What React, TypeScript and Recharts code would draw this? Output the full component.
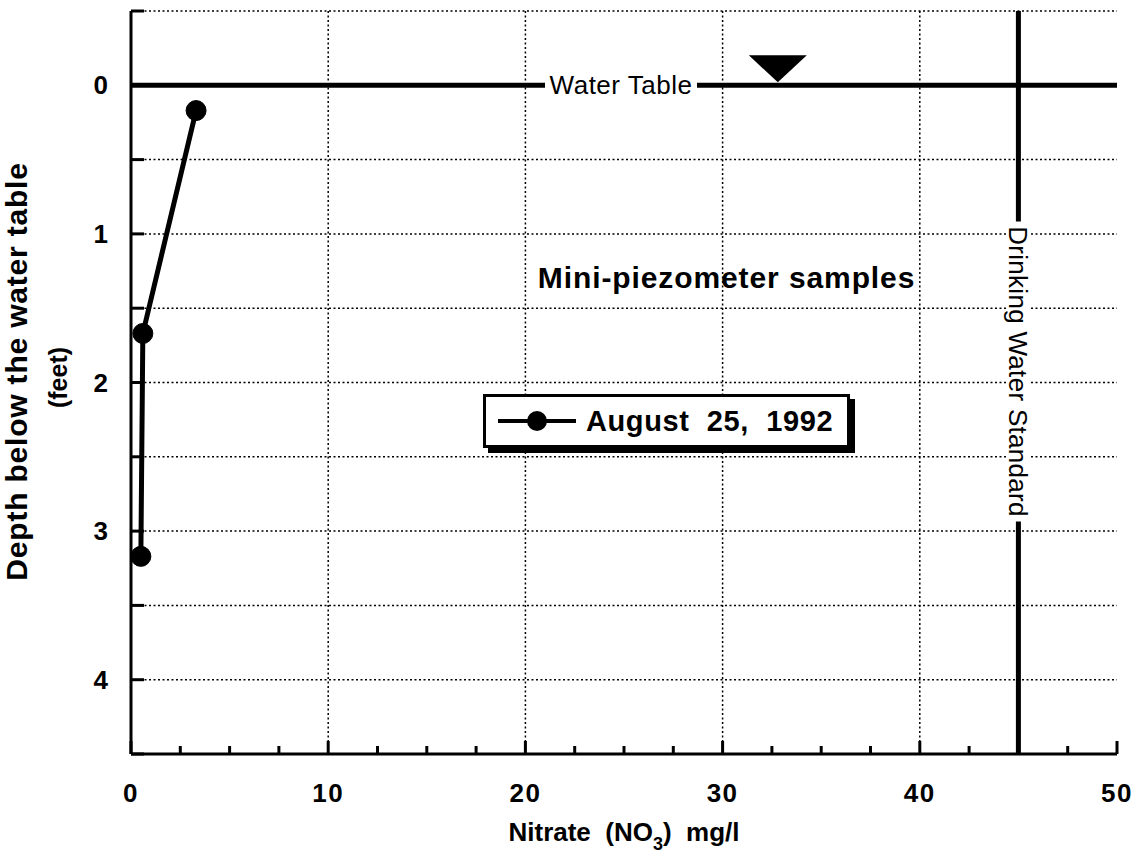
import {
  LineChart, Line, XAxis, YAxis, CartesianGrid, ReferenceLine, ReferenceDot, Legend
} from "recharts";

// samples
const nitrate = [3.3, 0.6, 0.5];
const depth = [0.17, 1.67, 3.17];
const seriesName = "August  25,  1992";

const xTicks = [0, 2.5, 5, 7.5, 10, 12.5, 15, 17.5, 20, 22.5, 25, 27.5, 30, 32.5, 35, 37.5, 40, 42.5, 45, 47.5, 50];
const xLabels = [0, 10, 20, 30, 40, 50];
const xGrid = [10, 20, 30, 40];
const yTicks = [-0.5, 0, 0.5, 1, 1.5, 2, 2.5, 3, 3.5, 4, 4.5];
const yLabels = [0, 1, 2, 3, 4];

const waterTable = 0;
const drinkingStandard = 45;
const triangleX = 32.8;
const titleX = 30.2;
const titleDepth = 1.3;

const FONT = "'Liberation Sans', Arial, Helvetica, sans-serif";

const data = nitrate.map((n, i) => ({ nitrate: n, depth: depth[i] }));

const BottomTick = ({ x, y, payload }: any) => {
  const v = payload.value;
  const major = xLabels.includes(v);
  return (
    <g>
      <line x1={x} x2={x} y1={y} y2={y - (major ? 13 : 8)} stroke="#000" strokeWidth={3} />
      {major && (
        <text x={x} y={y + 48} textAnchor="middle" fontFamily={FONT} fontWeight="bold" fontSize={26} letterSpacing={1.5} fill="#000">
          {v}
        </text>
      )}
    </g>
  );
};

const TopTick = ({ x, y }: any) => (
  <line x1={x} x2={x} y1={y} y2={y + 7} stroke="#000" strokeWidth={3} />
);

const LeftTick = ({ x, y, payload }: any) => {
  const v = payload.value;
  return (
    <g>
      <line x1={x} x2={x + 13} y1={y} y2={y} stroke="#000" strokeWidth={3} />
      {yLabels.includes(v) && (
        <text x={x - 23} y={y + 9} textAnchor="end" fontFamily={FONT} fontWeight="bold" fontSize={26} fill="#000">
          {v}
        </text>
      )}
    </g>
  );
};

const RightTick = ({ x, y }: any) => (
  <line x1={x} x2={x - 13} y1={y} y2={y} stroke="#000" strokeWidth={3} />
);

const XLabel = ({ viewBox }: any) => {
  const cx = viewBox.x + viewBox.width / 2;
  const by = viewBox.y + 87;
  return (
    <text x={cx} y={by} textAnchor="middle" fontFamily={FONT} fontWeight="bold" fontSize={26} fill="#000" style={{ whiteSpace: "pre" }}>
      {"Nitrate  (NO"}
      <tspan fontSize={18} dy={9}>3</tspan>
      <tspan dy={-9}>{")  mg/l"}</tspan>
    </text>
  );
};

const YLabel = ({ viewBox }: any) => {
  const cy = viewBox.y + viewBox.height / 2;
  return (
    <g>
      <text transform={`translate(27, ${cy - 11}) rotate(-90)`} textAnchor="middle" fontFamily={FONT} fontWeight="bold" fontSize={30} letterSpacing={0.8} fill="#000">
        Depth below the water table
      </text>
      <text transform={`translate(67, ${cy - 5}) rotate(-90)`} textAnchor="middle" fontFamily={FONT} fontWeight="bold" fontSize={25} fill="#000">
        (feet)
      </text>
    </g>
  );
};

const WaterTableLabel = ({ viewBox }: any) => {
  const cx = viewBox.x + viewBox.width / 2 - 3;
  const cy = viewBox.y;
  return (
    <g>
      <rect x={cx - 76} y={cy - 12} width={152} height={24} fill="#fff" />
      <text x={cx} y={cy + 9} textAnchor="middle" fontFamily={FONT} fontSize={26} letterSpacing={0.5} fill="#000">
        Water Table
      </text>
    </g>
  );
};

const StandardLabel = ({ viewBox }: any) => {
  const cx = viewBox.x;
  const cy = viewBox.y + viewBox.height / 2 - 11;
  return (
    <g>
      <rect x={cx - 12} y={cy - 150} width={24} height={300} fill="#fff" />
      <text transform={`translate(${cx - 9}, ${cy}) rotate(90)`} textAnchor="middle" fontFamily={FONT} fontSize={26} letterSpacing={0.3} fill="#000">
        Drinking Water Standard
      </text>
    </g>
  );
};

const Triangle = ({ cx, cy }: any) => (
  <path d={`M${cx - 29},${cy - 30} L${cx + 29},${cy - 30} L${cx},${cy - 3} Z`} fill="#000" />
);

const Title = ({ cx, cy }: any) => (
  <text x={cx} y={cy + 10} textAnchor="middle" fontFamily={FONT} fontWeight="bold" fontSize={30} letterSpacing={0.9} fill="#000">
    Mini-piezometer samples
  </text>
);

const LegendBox = () => (
  <div
    style={{
      boxSizing: "border-box",
      width: 367,
      height: 54,
      border: "3px solid #000",
      background: "#fff",
      boxShadow: "5px 5px 0 #000",
      display: "flex",
      alignItems: "center",
      paddingLeft: 12,
      fontFamily: FONT,
      fontWeight: "bold",
      fontSize: 29,
      letterSpacing: 0.6,
      whiteSpace: "pre",
    }}
  >
    <svg width={80} height={24} style={{ marginRight: 8 }}>
      <line x1={0} x2={78} y1={12} y2={12} stroke="#000" strokeWidth={4} />
      <circle cx={39} cy={12} r={10} fill="#000" />
    </svg>
    <span>{seriesName}</span>
  </div>
);

export default function App() {
  return (
    <div style={{ position: "absolute", left: 0, top: 0, background: "#fff" }}>
      <LineChart width={1138} height={856} data={data} margin={{ top: 11, right: 21, bottom: 0, left: 0 }}>
        <CartesianGrid stroke="#000" strokeWidth={1.5} strokeDasharray="2 2.5" verticalValues={xGrid} />
        <XAxis
          type="number"
          dataKey="nitrate"
          domain={[0, 50]}
          ticks={xTicks}
          interval={0}
          allowDataOverflow
          height={102}
          tickSize={0}
          tickMargin={0}
          tick={<BottomTick />}
          axisLine={{ stroke: "#000", strokeWidth: 3 }}
          label={XLabel}
        />
        <XAxis
          xAxisId="top"
          orientation="top"
          type="number"
          domain={[0, 50]}
          ticks={xTicks}
          interval={0}
          allowDataOverflow
          height={0}
          tickSize={0}
          tickMargin={0}
          tick={<TopTick />}
          axisLine={{ stroke: "#000", strokeWidth: 3 }}
        />
        <YAxis
          type="number"
          reversed
          domain={[-0.5, 4.5]}
          ticks={yTicks}
          interval={0}
          allowDataOverflow
          width={131}
          tickSize={0}
          tickMargin={0}
          tick={<LeftTick />}
          axisLine={{ stroke: "#000", strokeWidth: 3 }}
          label={YLabel}
        />
        <YAxis
          yAxisId="right"
          orientation="right"
          type="number"
          reversed
          domain={[-0.5, 4.5]}
          ticks={yTicks}
          interval={0}
          allowDataOverflow
          width={0}
          tickSize={0}
          tickMargin={0}
          tick={<RightTick />}
          axisLine={{ stroke: "#000", strokeWidth: 3 }}
        />
        <ReferenceLine x={drinkingStandard} stroke="#000" strokeWidth={5} label={StandardLabel} />
        <ReferenceLine y={waterTable} stroke="#000" strokeWidth={5} label={WaterTableLabel} />
        <ReferenceDot x={triangleX} y={waterTable} r={0} shape={Triangle} />
        <ReferenceDot x={titleX} y={titleDepth} r={0} shape={Title} />
        <Line
          type="linear"
          dataKey="depth"
          name={seriesName}
          stroke="#000"
          strokeWidth={5}
          dot={{ r: 10, fill: "#000", stroke: "#000", strokeWidth: 1 }}
          activeDot={false}
          isAnimationActive={false}
        />
        <Legend
          layout="horizontal"
          verticalAlign="middle"
          align="center"
          wrapperStyle={{ left: 483, top: 394, width: "auto" }}
          content={LegendBox}
        />
      </LineChart>
    </div>
  );
}
